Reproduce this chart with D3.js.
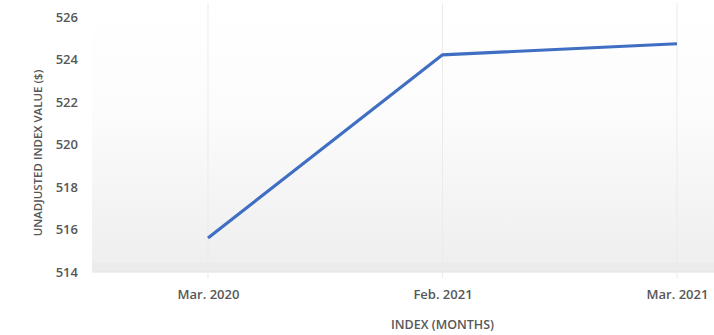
<!DOCTYPE html>
<html>
<head>
<meta charset="utf-8">
<script src="https://cdn.jsdelivr.net/npm/d3@7/dist/d3.min.js"></script>
<style>
  html, body { margin: 0; padding: 0; background: #fff; }
  svg { display: block; }
  text { font-family: "Open Sans", "DejaVu Sans", sans-serif; fill: #575757; }
</style>
</head>
<body>
<svg id="chart" width="714" height="335"></svg>
<script>
// Unadjusted index value by month
const months = ["Mar. 2020", "Feb. 2021", "Mar. 2021"];
const indexValues = [515.6, 524.22, 524.74];
const yTicks = [514, 516, 518, 520, 522, 524, 526];
const yTitle = "UNADJUSTED INDEX VALUE ($)";
const xTitle = "INDEX (MONTHS)";

const W = 714, H = 335;
const plot = { left: 92, right: 714, top: 3, bottom: 272 };

const svg = d3.select("#chart");

const x = d3.scalePoint().domain(months).range([208, 677]);
const y = d3.scaleLinear().domain([514, 526]).range([272, 17]);

// plot background: soft vertical gradient
const defs = svg.append("defs");
const grad = defs.append("linearGradient")
  .attr("id", "bg").attr("x1", 0).attr("y1", 0).attr("x2", 0).attr("y2", 1);
grad.append("stop").attr("offset", "0%").attr("stop-color", "#ffffff");
grad.append("stop").attr("offset", "40%").attr("stop-color", "#fcfcfc");
grad.append("stop").attr("offset", "100%").attr("stop-color", "#eeeeee");

svg.append("rect")
  .attr("x", plot.left).attr("y", plot.top)
  .attr("width", plot.right - plot.left).attr("height", plot.bottom - plot.top)
  .attr("fill", "url(#bg)");

// floor band along the bottom of the plot
svg.append("rect")
  .attr("x", plot.left).attr("y", plot.bottom - 9)
  .attr("width", plot.right - plot.left).attr("height", 9)
  .attr("fill", "#ebebeb");
svg.append("line")
  .attr("x1", plot.left).attr("x2", plot.right)
  .attr("y1", plot.bottom).attr("y2", plot.bottom)
  .attr("stroke", "#e2e2e2").attr("stroke-width", 1);

// vertical gridlines at each month
svg.append("g")
  .selectAll("line")
  .data(months)
  .join("line")
  .attr("x1", d => x(d)).attr("x2", d => x(d))
  .attr("y1", plot.top).attr("y2", plot.bottom + 6)
  .attr("stroke", "#ebebeb").attr("stroke-width", 1);

// y axis labels
const yAxis = svg.append("g")
  .attr("transform", `translate(${78},0)`)
  .call(d3.axisLeft(y).tickValues(yTicks).tickSize(0).tickPadding(0));
yAxis.select(".domain").remove();
yAxis.selectAll("text")
  .attr("font-size", 13)
  .attr("font-family", "'Open Sans', sans-serif")
  .attr("fill", "#575757")
  .attr("font-weight", 600);

// x axis labels
const xAxis = svg.append("g")
  .attr("transform", `translate(0,${plot.bottom})`)
  .call(d3.axisBottom(x).tickSize(0).tickPadding(18));
xAxis.select(".domain").remove();
xAxis.selectAll("text")
  .attr("font-size", 13)
  .attr("font-family", "'Open Sans', sans-serif")
  .attr("fill", "#575757")
  .attr("font-weight", 600);

// line series
const line = d3.line()
  .x((d, i) => x(months[i]))
  .y(d => y(d));

svg.append("path")
  .datum(indexValues)
  .attr("d", line)
  .attr("fill", "none")
  .attr("stroke", "#3f6ec3")
  .attr("stroke-width", 3.2)
  .attr("stroke-linejoin", "miter");

// axis titles
svg.append("text")
  .attr("transform", `translate(42,${153}) rotate(-90)`)
  .attr("text-anchor", "middle")
  .attr("font-size", 11.5)
  .attr("font-weight", 600)
  .text(yTitle);

svg.append("text")
  .attr("x", x("Feb. 2021"))
  .attr("y", 329)
  .attr("text-anchor", "middle")
  .attr("font-size", 12.5)
  .attr("font-weight", 600)
  .text(xTitle);
</script>
</body>
</html>
